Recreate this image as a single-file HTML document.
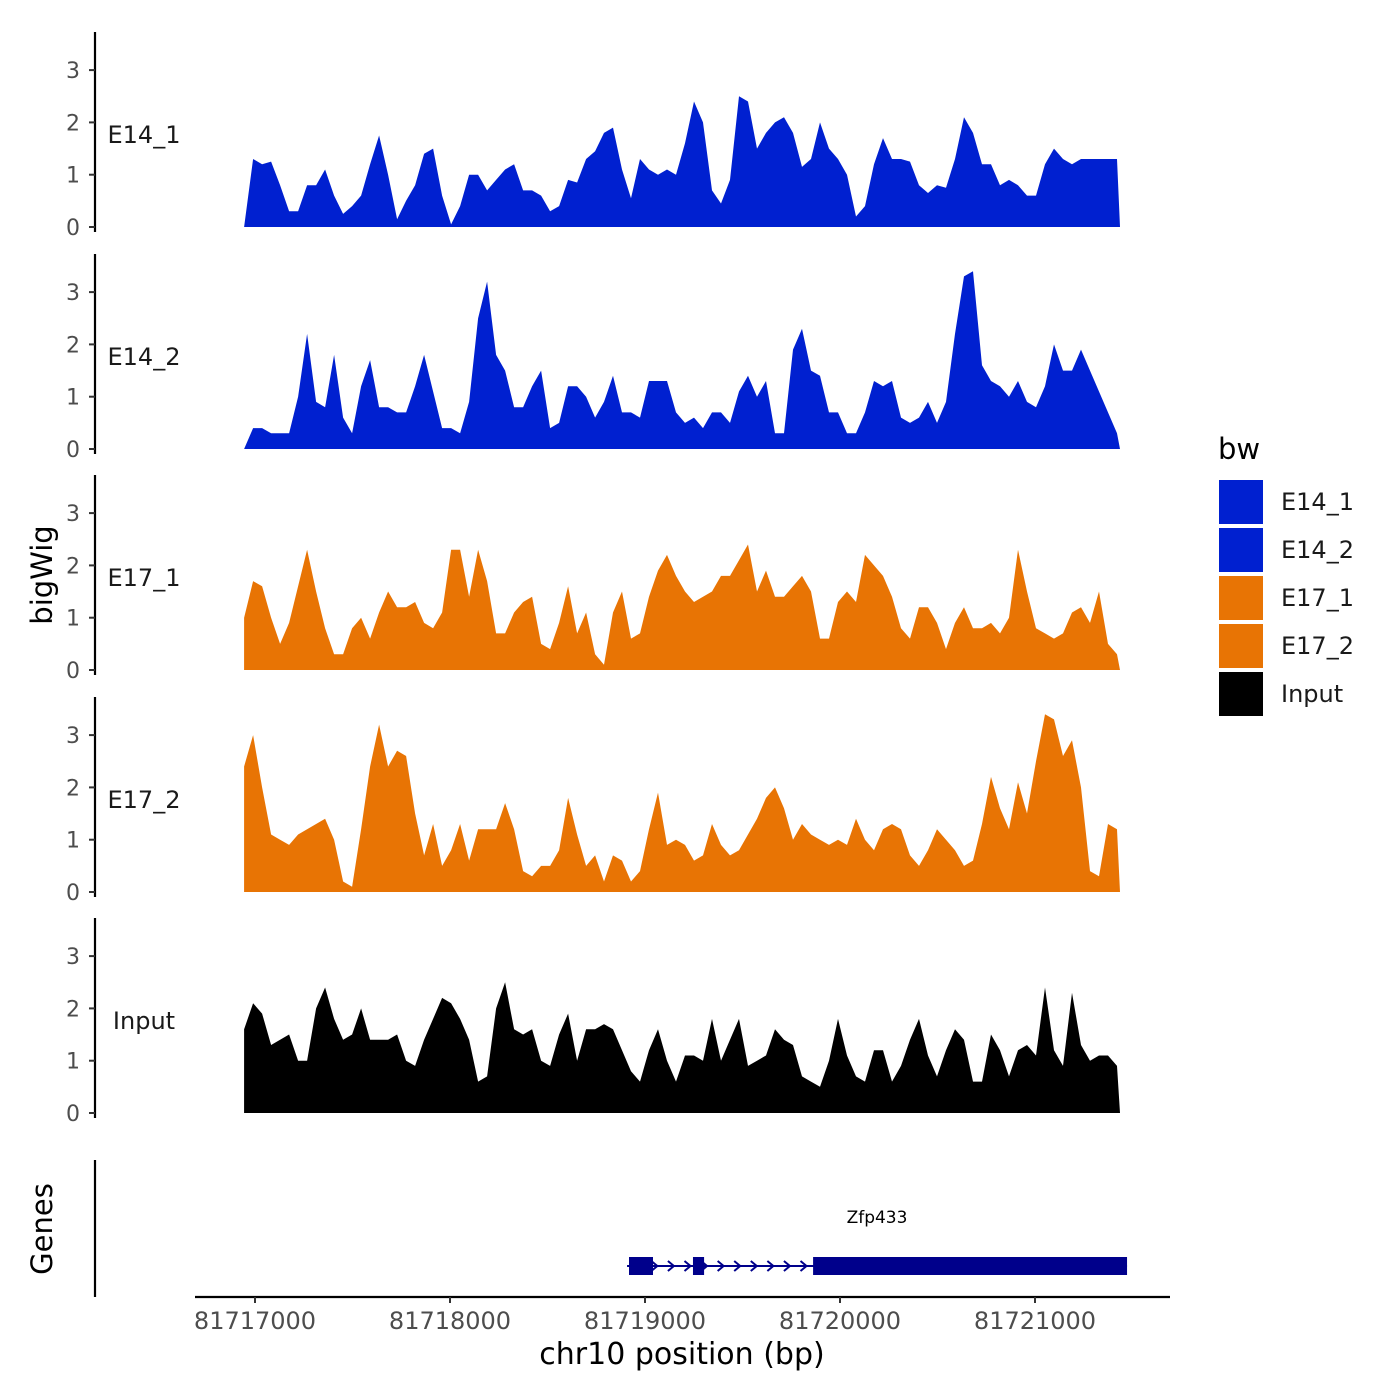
<!DOCTYPE html>
<html><head><meta charset="utf-8"><style>
html,body{margin:0;padding:0;background:#fff;}
svg{display:block;font-family:"DejaVu Sans","Liberation Sans",sans-serif;}
</style></head><body>
<svg id="chart" width="1400" height="1400" viewBox="0 0 1400 1400"></svg>
<script>
const trackNames = ["E14_1","E14_2","E17_1","E17_2","Input"];
const trackColors = ["#0020d0","#0020d0","#e87404","#e87404","#000000"];
const regionStart = 81716944;
const binStep = 46.15;
const yTicks = [0,1,2,3];
const xTicks = [81717000,81718000,81719000,81720000,81721000];
const xTickLabels = ["81717000","81718000","81719000","81720000","81721000"];
const valsE14_1 = [0,1.3,1.2,1.25,0.8,0.3,0.3,0.8,0.8,1.1,0.6,0.25,0.4,0.6,1.2,1.75,1.0,0.15,0.5,0.8,1.4,1.5,0.6,0.05,0.4,1.0,1.0,0.7,0.9,1.1,1.2,0.7,0.7,0.6,0.3,0.4,0.9,0.85,1.3,1.45,1.8,1.9,1.1,0.55,1.3,1.1,1.0,1.1,1.0,1.6,2.4,2.0,0.7,0.45,0.9,2.5,2.4,1.5,1.8,2.0,2.1,1.8,1.15,1.3,2.0,1.5,1.3,1.0,0.2,0.4,1.2,1.7,1.3,1.3,1.25,0.8,0.65,0.8,0.75,1.3,2.1,1.8,1.2,1.2,0.8,0.9,0.8,0.6,0.6,1.2,1.5,1.3,1.2,1.3,1.3,1.3,1.3,1.3];
const valsE14_2 = [0,0.4,0.4,0.3,0.3,0.3,1.0,2.2,0.9,0.8,1.8,0.6,0.3,1.2,1.7,0.8,0.8,0.7,0.7,1.2,1.8,1.1,0.4,0.4,0.3,0.9,2.5,3.2,1.8,1.5,0.8,0.8,1.2,1.5,0.4,0.5,1.2,1.2,1.0,0.6,0.9,1.4,0.7,0.7,0.6,1.3,1.3,1.3,0.7,0.5,0.6,0.4,0.7,0.7,0.5,1.1,1.4,1.0,1.3,0.3,0.3,1.9,2.3,1.5,1.4,0.7,0.7,0.3,0.3,0.7,1.3,1.2,1.3,0.6,0.5,0.6,0.9,0.5,0.9,2.2,3.3,3.4,1.6,1.3,1.2,1.0,1.3,0.9,0.8,1.2,2.0,1.5,1.5,1.9,1.5,1.1,0.7,0.3];
const valsE17_1 = [1.0,1.7,1.6,1.0,0.5,0.9,1.6,2.3,1.5,0.8,0.3,0.3,0.8,1.0,0.6,1.1,1.5,1.2,1.2,1.3,0.9,0.8,1.1,2.3,2.3,1.4,2.3,1.7,0.7,0.7,1.1,1.3,1.4,0.5,0.4,0.9,1.6,0.7,1.1,0.3,0.1,1.1,1.5,0.6,0.7,1.4,1.9,2.2,1.8,1.5,1.3,1.4,1.5,1.8,1.8,2.1,2.4,1.5,1.9,1.4,1.4,1.6,1.8,1.5,0.6,0.6,1.3,1.5,1.3,2.2,2.0,1.8,1.4,0.8,0.6,1.2,1.2,0.9,0.4,0.9,1.2,0.8,0.8,0.9,0.7,1.0,2.3,1.5,0.8,0.7,0.6,0.7,1.1,1.2,0.9,1.5,0.5,0.3];
const valsE17_2 = [2.4,3.0,2.0,1.1,1.0,0.9,1.1,1.2,1.3,1.4,1.0,0.2,0.1,1.2,2.4,3.2,2.4,2.7,2.6,1.5,0.7,1.3,0.5,0.8,1.3,0.6,1.2,1.2,1.2,1.7,1.2,0.4,0.3,0.5,0.5,0.8,1.8,1.1,0.5,0.7,0.2,0.7,0.6,0.2,0.4,1.2,1.9,0.9,1.0,0.9,0.6,0.7,1.3,0.9,0.7,0.8,1.1,1.4,1.8,2.0,1.6,1.0,1.3,1.1,1.0,0.9,1.0,0.9,1.4,1.0,0.8,1.2,1.3,1.2,0.7,0.5,0.8,1.2,1.0,0.8,0.5,0.6,1.3,2.2,1.6,1.2,2.1,1.5,2.5,3.4,3.3,2.6,2.9,2.0,0.4,0.3,1.3,1.2];
const valsInput = [1.6,2.1,1.9,1.3,1.4,1.5,1.0,1.0,2.0,2.4,1.8,1.4,1.5,2.0,1.4,1.4,1.4,1.5,1.0,0.9,1.4,1.8,2.2,2.1,1.8,1.4,0.6,0.7,2.0,2.5,1.6,1.5,1.6,1.0,0.9,1.5,1.9,1.0,1.6,1.6,1.7,1.6,1.2,0.8,0.6,1.2,1.6,1.0,0.6,1.1,1.1,1.0,1.8,1.0,1.4,1.8,0.9,1.0,1.1,1.6,1.4,1.3,0.7,0.6,0.5,1.0,1.8,1.1,0.7,0.6,1.2,1.2,0.6,0.9,1.4,1.8,1.1,0.7,1.2,1.6,1.4,0.6,0.6,1.5,1.2,0.7,1.2,1.3,1.1,2.4,1.2,0.9,2.3,1.3,1.0,1.1,1.1,0.9];
const geneName = "Zfp433";
const geneStart = 81718908;
const geneEnd = 81721472;
const exonStarts = [81718918, 81719246, 81719862];
const exonEnds = [81719041, 81719303, 81721472];

const NS = "http://www.w3.org/2000/svg";
const svg = document.getElementById("chart");
function xs(bp){ return 255 + (bp - 81717000) * 0.195; }
const zeros = [227, 449, 670, 892, 1113];
const unitPx = 52.3;
function ys(track, v){ return zeros[track] - v * unitPx; }
function mk(tag, attrs, parent){
  const e = document.createElementNS(NS, tag);
  for (const k in attrs) e.setAttribute(k, attrs[k]);
  (parent || svg).appendChild(e);
  return e;
}
const allVals = [valsE14_1, valsE14_2, valsE17_1, valsE17_2, valsInput];

allVals.forEach((vals, t) => {
  const g = mk("g", {});
  
  
  const ax = mk("line", {x1:95, x2:95, y1:zeros[t]-195, y2:zeros[t]+5, stroke:"#000", "stroke-width":2.2}, g);
  
  
  yTicks.forEach(v => {
    const y = ys(t, v);
    const tk = mk("line", {x1:89, x2:95, y1:y, y2:y, stroke:"#333", "stroke-width":2}, g);
    
    
    const tl = mk("text", {x:80, y:y+8, "text-anchor":"end", "font-size":22, fill:"#4d4d4d"}, g);
    tl.textContent = v;
    
    
  });
  const lab = mk("text", {x:144, y:zeros[t]-84, "text-anchor":"middle", "font-size":24, fill:"#1a1a1a"}, g);
  lab.textContent = trackNames[t];
  
  
  let d = "M" + xs(regionStart) + "," + zeros[t];
  vals.forEach((v, i) => {
    d += " L" + xs(regionStart + i*binStep).toFixed(1) + "," + ys(t, v).toFixed(1);
  });
  const xl = xs(regionStart + (vals.length-1)*binStep) + 3;
  d += " L" + xl.toFixed(1) + "," + zeros[t] + " Z";
  const p = mk("path", {d:d, fill:trackColors[t]}, g);
  
  
});

const gg = mk("g", {});


const gax = mk("line", {x1:95, x2:95, y1:1160, y2:1297, stroke:"#000", "stroke-width":2.2}, gg);


const gl = mk("line", {x1:xs(geneStart), x2:xs(geneEnd), y1:1266, y2:1266, stroke:"#00008b", "stroke-width":2}, gg);


for (let bp = geneStart + 60; bp < exonStarts[2]; bp += 85) {
  const x = xs(bp);
  const ch = mk("polyline", {points:(x-4)+",1261 "+(x+2)+",1266 "+(x-4)+",1271", fill:"none", stroke:"#00008b", "stroke-width":2}, gg);
  
  
}
exonStarts.forEach((s, i) => {
  const r = mk("rect", {x:xs(s), y:1257, width:xs(exonEnds[i])-xs(s), height:18, fill:"#00008b"}, gg);
  
  
});
const gn = mk("text", {x:877, y:1223, "text-anchor":"middle", "font-size":17, fill:"#000"}, gg);
gn.textContent = geneName;



const xa = mk("line", {x1:195, x2:1170, y1:1297, y2:1297, stroke:"#000", "stroke-width":2.2});


xTicks.forEach((v, i) => {
  const x = xs(v);
  const t = mk("line", {x1:x, x2:x, y1:1297, y2:1303, stroke:"#333", "stroke-width":2});
  
  
  const l = mk("text", {x:x, y:1329, "text-anchor":"middle", "font-size":24, fill:"#4d4d4d"});
  l.textContent = xTickLabels[i];
  
  
});
const xt = mk("text", {x:682, y:1364, "text-anchor":"middle", "font-size":30, fill:"#000"});
xt.textContent = "chr10 position (bp)";


const yt = mk("text", {x:0, y:0, "text-anchor":"middle", "font-size":29, fill:"#000", transform:"translate(52,575) rotate(-90)"});
yt.textContent = "bigWig";


const gt = mk("text", {x:0, y:0, "text-anchor":"middle", "font-size":29, fill:"#000", transform:"translate(52,1229) rotate(-90)"});
gt.textContent = "Genes";



const lg = mk("g", {});


const ltt = mk("text", {x:1218, y:459, "font-size":29, fill:"#000"}, lg);
ltt.textContent = "bw";


trackNames.forEach((n, i) => {
  const y = 480 + i*48;
  const r = mk("rect", {x:1219, y:y, width:44, height:44, fill:trackColors[i]}, lg);
  
  
  const t = mk("text", {x:1281, y:y+30, "font-size":24, fill:"#1a1a1a"}, lg);
  t.textContent = n;
  
  
});
</script>
</body></html>
